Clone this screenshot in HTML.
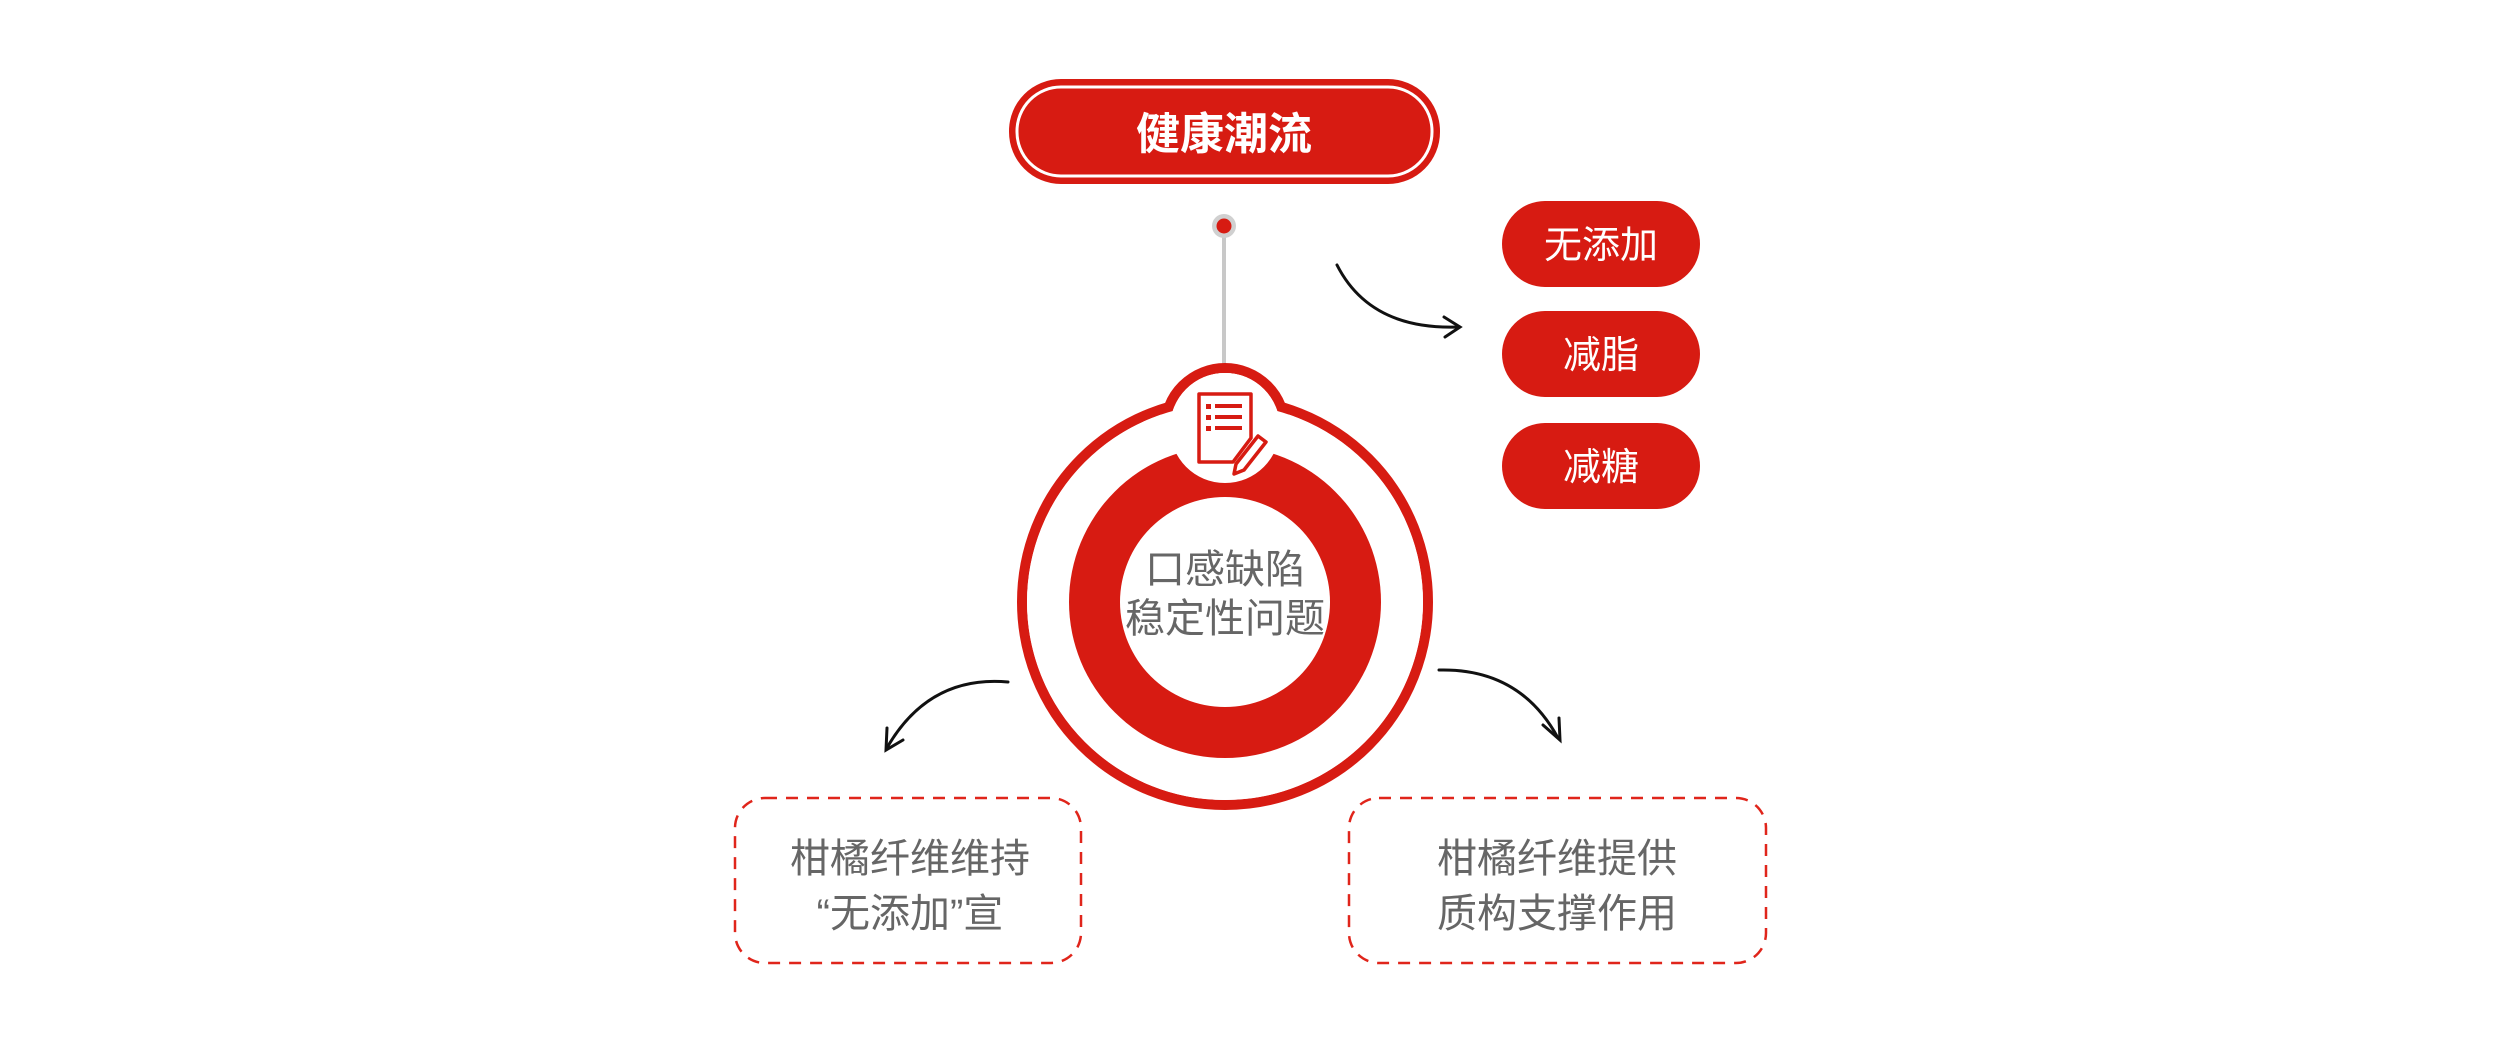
<!DOCTYPE html>
<html><head><meta charset="utf-8"><style>
html,body{margin:0;padding:0;background:#fff;}
svg{display:block;}
text{font-family:"Liberation Sans","Noto Sans CJK SC",sans-serif;}
</style></head><body>
<svg width="2501" height="1045" viewBox="0 0 2501 1045" xmlns="http://www.w3.org/2000/svg">
<rect width="2501" height="1045" fill="#fff"/>
<!-- top pill -->
<rect x="1009" y="79" width="431" height="105" rx="52" fill="#d71b12"/>
<rect x="1017" y="87" width="415" height="89" rx="44" fill="none" stroke="#fff" stroke-width="3"/>
<text x="1224" y="149" font-size="44" font-weight="bold" fill="#fff" text-anchor="middle">健康潮流</text>
<!-- connector -->
<line x1="1224" y1="232" x2="1224" y2="372" stroke="#c8c8c8" stroke-width="4"/>
<circle cx="1224" cy="226" r="12" fill="#d0d0d0"/>
<circle cx="1224" cy="226" r="7.5" fill="#d71b12"/>
<!-- main circle union -->
<circle cx="1225" cy="602" r="203" fill="#fff" stroke="#d71b12" stroke-width="10"/>
<circle cx="1225" cy="428" r="60" fill="#fff" stroke="#d71b12" stroke-width="10"/>
<circle cx="1225" cy="602" r="198" fill="#fff"/>
<circle cx="1225" cy="428" r="55" fill="#fff"/>
<circle cx="1225" cy="602" r="156" fill="#d71b12"/>
<circle cx="1225" cy="602" r="105" fill="#fff"/>
<circle cx="1225" cy="428" r="55" fill="#fff"/>
<!-- icon -->
<g fill="none" stroke="#d71b12" stroke-width="3.5" stroke-linejoin="round">
<path d="M1199 394 h52 v44 l-18 24 h-34 z"/>
<path d="M1236 464 l22 -28 l8 6 l-22 28 l-10 4 z"/>
</g>
<g fill="#d71b12">
<rect x="1206" y="404" width="5" height="5"/><rect x="1215" y="404" width="27" height="4"/>
<rect x="1206" y="415" width="5" height="5"/><rect x="1215" y="415" width="27" height="4"/>
<rect x="1206" y="426" width="5" height="5"/><rect x="1215" y="426" width="27" height="4"/>
</g>
<text x="1225" y="583" font-size="40" fill="#666" text-anchor="middle">口感缺陷</text>
<text x="1225" y="632" font-size="40" fill="#666" text-anchor="middle">稳定性问题</text>
<!-- right pills -->
<rect x="1502" y="201" width="198" height="86" rx="43" fill="#d71b12"/>
<rect x="1502" y="311" width="198" height="86" rx="43" fill="#d71b12"/>
<rect x="1502" y="423" width="198" height="86" rx="43" fill="#d71b12"/>
<text x="1601" y="258" font-size="38" fill="#fff" text-anchor="middle">无添加</text>
<text x="1601" y="368" font-size="38" fill="#fff" text-anchor="middle">减脂</text>
<text x="1601" y="480" font-size="38" fill="#fff" text-anchor="middle">减糖</text>
<!-- arrows -->
<g fill="none" stroke="#111" stroke-width="3" stroke-linecap="round">
<path d="M1337 265 Q1370 330 1458 327"/>
<path d="M1444 317 L1460 327 L1445 337"/>
<path d="M1008 682 Q930 675 888 746"/>
<path d="M887 728 L886 750 L903 740"/>
<path d="M1439 670 Q1520 668 1558 738"/>
<path d="M1543 725 L1560 740 L1559 718"/>
</g>
<!-- dashed boxes -->
<rect x="735" y="798" width="346" height="165" rx="30" fill="none" stroke="#e0251b" stroke-width="2.5" stroke-dasharray="12 9"/>
<rect x="1349" y="798" width="417" height="165" rx="30" fill="none" stroke="#e0251b" stroke-width="2.5" stroke-dasharray="12 9"/>
<text x="910" y="872" font-size="40" fill="#666" text-anchor="middle">柑橘纤维维持</text>
<text x="910" y="927" font-size="40" fill="#666" text-anchor="middle">“无添加”宣</text>
<text x="1557" y="872" font-size="40" fill="#666" text-anchor="middle">柑橘纤维提供</text>
<text x="1557" y="927" font-size="40" fill="#666" text-anchor="middle">质构支撑作用</text>
</svg>
</body></html>
